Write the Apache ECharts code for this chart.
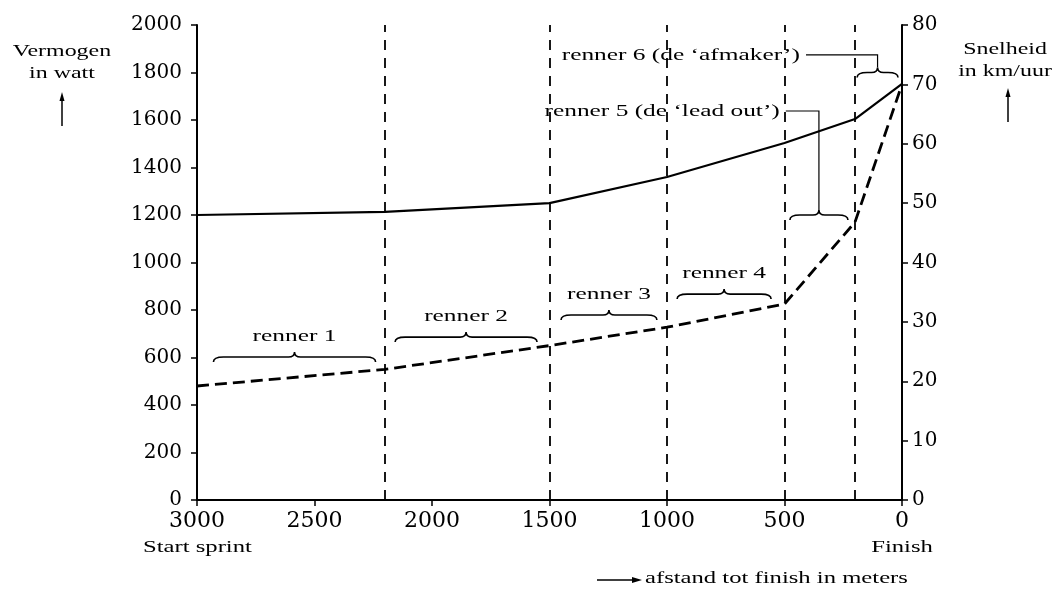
<!DOCTYPE html>
<html>
<head>
<meta charset="utf-8">
<script src="https://cdn.jsdelivr.net/npm/echarts@6/dist/echarts.min.js"></script>
<style>html,body{margin:0;padding:0;background:#fff}#c{width:1058px;height:589px}</style>
</head>
<body>
<div id="c"></div>
<script>
const distance = [3000, 2200, 1500, 1000, 500, 200, 0];
const power = [1200, 1213, 1250, 1360, 1503, 1604, 1752];
const speed = [19.2, 22, 26, 29.1, 33, 46.8, 70];
const sectionBounds = [2200, 1500, 1000, 500, 200];
const braceNames = ['renner 1', 'renner 2', 'renner 3', 'renner 4', 'renner 5 (de \u2018lead out\u2019)', 'renner 6 (de \u2018afmaker\u2019)'];
const braceStart = [2930, 2157, 1451, 957, 477, 191];
const braceEnd = [2240, 1553, 1043, 557, 230, 17];
const braceLevel = [602, 686, 779, 867, 1200, 1800];
const calloutX = [null, null, null, null, 520, 434];
const calloutY = [null, null, null, null, 1638, 1874];

const SERIF = 'Liberation Serif';
const AXFONT = 'DejaVu Serif';
const SX = 1.45;
const chart = echarts.init(document.getElementById('c'));

const powerData = distance.map((d, i) => [d, power[i]]);
const speedData = distance.map((d, i) => [d, speed[i]]);
const braceData = braceNames.map((n, i) => [braceStart[i], braceEnd[i], braceLevel[i], i]);

function txt(text, x, y, size, align) {
  return {
    type: 'text', x: x, y: y, scaleX: SX,
    style: { text: text, x: 0, y: 0, fill: '#000', font: size + 'px "' + SERIF + '"', align: align || 'center', verticalAlign: 'middle' }
  };
}

function renderBrace(params, api) {
  const i = api.value(3);
  const p1 = api.coord([api.value(0), api.value(2)]);
  const p2 = api.coord([api.value(1), api.value(2)]);
  const xL = Math.min(p1[0], p2[0]), xR = Math.max(p1[0], p2[0]);
  const y = p1[1], h = 5, xm = (xL + xR) / 2;
  const d = `M${xL},${y + h} Q${xL},${y} ${xL + 10},${y} L${xm - 6},${y} Q${xm},${y} ${xm},${y - h} Q${xm},${y} ${xm + 6},${y} L${xR - 10},${y} Q${xR},${y} ${xR},${y + h}`;
  const children = [{
    type: 'path', shape: { pathData: d },
    style: { fill: 'none', stroke: '#000', lineWidth: 1.6 }
  }];
  const name = braceNames[i];
  if (calloutX[i] == null) {
    children.push(txt(name, xm, y - 21, 17.5, 'center'));
  } else {
    const lp = api.coord([calloutX[i], calloutY[i]]);
    children.push({
      type: 'polyline',
      shape: { points: [[xm, y - h], [xm, lp[1]], [lp[0] + 6, lp[1]]] },
      style: { fill: 'none', stroke: '#000', lineWidth: 1.2 }
    });
    children.push(txt(name, lp[0], lp[1], 17.5, 'right'));
  }
  return { type: 'group', children };
}

const tickStyle = { color: '#000', width: 1.5 };

chart.setOption({
  animation: false,
  backgroundColor: '#fff',
  grid: { left: 197, right: 156, top: 25, bottom: 89 },
  xAxis: {
    type: 'value', inverse: true, min: 0, max: 3000, interval: 500,
    splitLine: { show: false },
    axisLine: { onZero: false, lineStyle: { color: '#000', width: 2 } },
    axisTick: { length: 6, lineStyle: tickStyle },
    axisLabel: { margin: 10, color: '#000', fontFamily: AXFONT, fontSize: 22, formatter: v => String(v) }
  },
  yAxis: [{
    type: 'value', min: 0, max: 2000, interval: 200, position: 'left',
    splitLine: { show: false },
    axisLine: { show: true, onZero: false, lineStyle: { color: '#000', width: 2 } },
    axisTick: { show: true, length: 6, lineStyle: tickStyle },
    axisLabel: { margin: 15, color: '#000', fontFamily: AXFONT, fontSize: 20, formatter: v => String(v) }
  }, {
    type: 'value', min: 0, max: 80, interval: 10, position: 'right',
    splitLine: { show: false },
    axisLine: { show: true, onZero: false, lineStyle: { color: '#000', width: 2 } },
    axisTick: { show: true, length: 6, lineStyle: tickStyle },
    axisLabel: { margin: 10, color: '#000', fontFamily: AXFONT, fontSize: 20, formatter: v => String(v) }
  }],
  series: [{
    name: 'Vermogen', type: 'line', yAxisIndex: 0,
    data: powerData, symbol: 'none',
    lineStyle: { color: '#000', width: 2.2 },
    markLine: {
      silent: true, symbol: ['none', 'none'], label: { show: false },
      lineStyle: { color: '#000', width: 1.8, type: [10, 8] },
      data: sectionBounds.map(v => ({ xAxis: v }))
    }
  }, {
    name: 'Snelheid', type: 'line', yAxisIndex: 1,
    data: speedData, symbol: 'none',
    lineStyle: { color: '#000', width: 2.8, type: [12, 6] }
  }, {
    type: 'custom', yAxisIndex: 0, clip: false,
    renderItem: renderBrace, data: braceData,
    encode: { x: [0, 1], y: 2 }
  }],
  graphic: [
    txt('Vermogen', 62, 52, 16.5),
    txt('in watt', 62, 74, 16.5),
    { type: 'line', shape: { x1: 62, y1: 126, x2: 62, y2: 96 }, style: { stroke: '#000', lineWidth: 1.5 } },
    { type: 'polygon', shape: { points: [[62, 92], [59.5, 101], [64.5, 101]] }, style: { fill: '#000' } },
    txt('Snelheid', 1005, 50, 16.5),
    txt('in km/uur', 1005, 72, 16.5),
    { type: 'line', shape: { x1: 1008, y1: 122, x2: 1008, y2: 92 }, style: { stroke: '#000', lineWidth: 1.5 } },
    { type: 'polygon', shape: { points: [[1008, 88], [1005.5, 97], [1010.5, 97]] }, style: { fill: '#000' } },
    txt('Start sprint', 143, 548, 17, 'left'),
    txt('Finish', 902, 548, 17, 'center'),
    { type: 'line', shape: { x1: 597, y1: 580, x2: 634, y2: 580 }, style: { stroke: '#000', lineWidth: 1.3 } },
    { type: 'polygon', shape: { points: [[642, 580], [632, 577], [632, 583]] }, style: { fill: '#000' } },
    txt('afstand tot finish in meters', 645, 579, 17, 'left')
  ]
});
</script>
</body>
</html>
